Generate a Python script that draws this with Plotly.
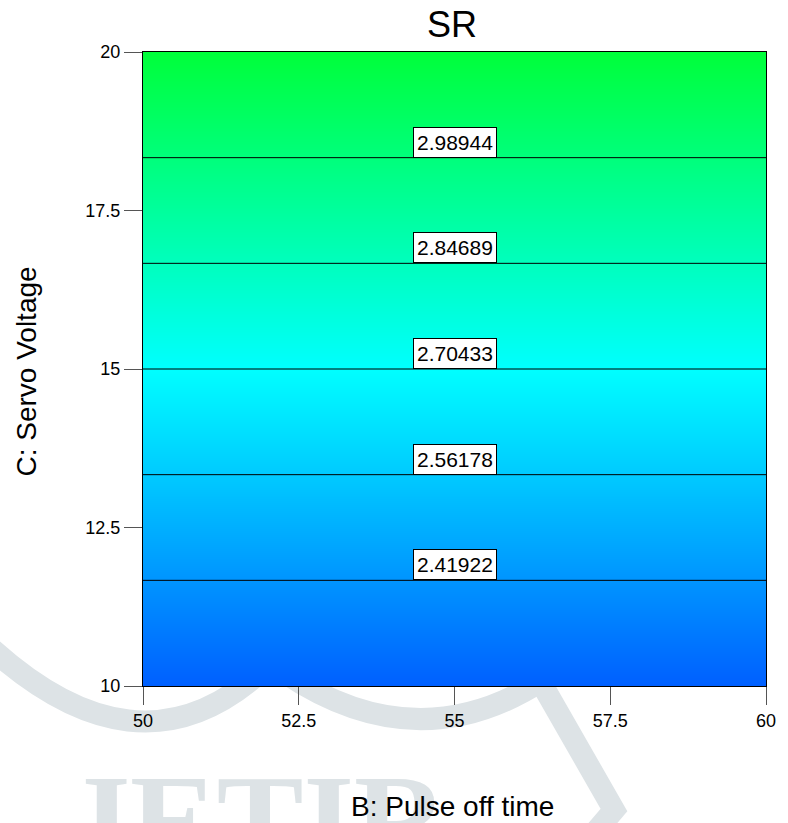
import plotly.graph_objects as go

# Factor ranges and SR response read along C (the surface is flat in B)
pulse_off_time = [50, 60]
servo_voltage = [10, 11.6667, 13.3333, 15, 16.6667, 18.3333, 20]
sr_values = [2.27666, 2.41922, 2.56178, 2.70433, 2.84689, 2.98944, 3.13200]
contour_levels = sr_values[1:-1]
label_voltage = servo_voltage[1:-1]
x_ticks = [50, 52.5, 55, 57.5, 60]
y_ticks = [10, 12.5, 15, 17.5, 20]

W, H = 788, 823
ML, MR, MT, MB = 143, 14, 52, 137
PW, PH = W - ML - MR, H - MT - MB

FONT = "Liberation Sans, Arial, sans-serif"
WATERMARK = "#dde3e6"


def px(x):
    return (x - ML) / PW


def py(y):
    return (H - MB - y) / PH


z = [[v for _ in pulse_off_time] for v in sr_values]

fig = go.Figure()
fig.add_trace(go.Contour(
    x=pulse_off_time,
    y=servo_voltage,
    z=z,
    zmin=sr_values[0],
    zmax=sr_values[-1],
    colorscale=[[0.0, "rgb(0,95,255)"], [0.5, "rgb(0,255,255)"], [1.0, "rgb(0,255,58)"]],
    showscale=False,
    contours=dict(
        start=contour_levels[0],
        end=contour_levels[-1],
        size=(contour_levels[-1] - contour_levels[0]) / (len(contour_levels) - 1),
        coloring="heatmap",
        showlabels=False,
    ),
    line=dict(color="black", width=1),
    hoverinfo="skip",
))

annotations = []

# journal watermark lettering (listed first so every other text sits on top)
annotations.append(dict(
    x=px(62), y=py(746), xref="paper", yref="paper", text="JETIR",
    showarrow=False, xanchor="left", yanchor="top",
    font=dict(family="Liberation Serif, serif", size=130, color=WATERMARK, weight="bold"),
))

for lvl, c in zip(contour_levels, label_voltage):
    annotations.append(dict(
        x=55, y=c, xref="x", yref="y",
        text=f"{lvl:.5f}", showarrow=False,
        xanchor="center", yanchor="bottom",
        bgcolor="white", bordercolor="black", borderwidth=1, borderpad=3,
        font=dict(family=FONT, size=21, color="black"),
    ))

# titles
annotations.append(dict(
    x=px(456), y=py(24), xref="paper", yref="paper", text="SR", showarrow=False,
    xanchor="center", yanchor="middle", font=dict(family=FONT, size=36, color="black"),
))
annotations.append(dict(
    x=px(456), y=py(806), xref="paper", yref="paper", text="B: Pulse off time",
    showarrow=False, xanchor="center", yanchor="middle",
    font=dict(family=FONT, size=28, color="black"),
))
annotations.append(dict(
    x=px(24), y=py(372), xref="paper", yref="paper", text="C: Servo Voltage",
    showarrow=False, xanchor="center", yanchor="middle", textangle=-90,
    font=dict(family=FONT, size=28, color="black"),
))

shapes = [
    dict(type="path", xref="paper", yref="paper", layer="below",
         path=f"M {px(-20)},{py(640)} Q {px(135)},{py(785)} {px(262)},{py(672)}",
         line=dict(color=WATERMARK, width=22)),
    dict(type="path", xref="paper", yref="paper", layer="below",
         path=f"M {px(285)},{py(672)} Q {px(420)},{py(762)} {px(548)},{py(680)}",
         line=dict(color=WATERMARK, width=22)),
    dict(type="path", xref="paper", yref="paper", layer="below",
         path=f"M {px(540)},{py(672)} L {px(620)},{py(810)} L {px(590)},{py(845)}",
         line=dict(color=WATERMARK, width=22)),
]

axis_common = dict(
    showline=True, linecolor="black", linewidth=1, mirror=True,
    ticks="outside", ticklen=18, tickwidth=1, tickcolor="#555555",
    tickfont=dict(family=FONT, size=18, color="black"),
    showgrid=False, zeroline=False,
)

fig.update_layout(
    width=W, height=H,
    margin=dict(l=ML, r=MR, t=MT, b=MB, pad=0),
    paper_bgcolor="white", plot_bgcolor="white",
    showlegend=False,
    xaxis=dict(range=[50, 60], tickvals=x_ticks, ticktext=[f"{v:g}" for v in x_ticks], **axis_common),
    yaxis=dict(range=[10, 20], tickvals=y_ticks, ticktext=[f"{v:g}" for v in y_ticks], **axis_common),
    annotations=annotations,
    shapes=shapes,
)

fig.write_html("out.html")
